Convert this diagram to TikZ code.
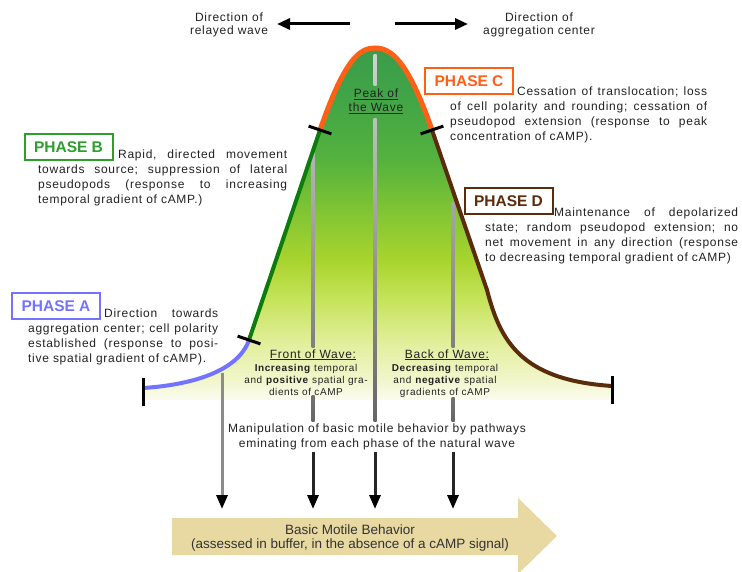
\documentclass[tikz,border=0pt]{standalone}
\usepackage{fontspec}
\setmainfont[LetterSpace=6]{Liberation Sans}
\newfontfamily\plainsans{Liberation Sans}
\usetikzlibrary{arrows.meta,calc}

\definecolor{inkgray}{HTML}{222222}
\definecolor{phaseAcol}{HTML}{7373FF}
\definecolor{phaseBcol}{HTML}{2E9E2E}
\definecolor{phaseBline}{HTML}{0C7C0C}
\definecolor{phaseCcol}{HTML}{FF6016}
\definecolor{phaseDcol}{HTML}{5A2C0C}
\definecolor{arrowtan}{HTML}{E8D9A2}
% colours of the wave body, from its base up to its crest
\definecolor{w0}{HTML}{FBFCF0}
\definecolor{w1}{HTML}{F2F6CC}
\definecolor{w2}{HTML}{E0EE98}
\definecolor{w3}{HTML}{C6E45A}
\definecolor{w4}{HTML}{A8D42E}
\definecolor{w5}{HTML}{80C434}
\definecolor{w6}{HTML}{55B23E}
\definecolor{w7}{HTML}{42A546}
\definecolor{w8}{HTML}{3A9C4A}
\pgfdeclareverticalshading{wavefill}{100bp}{color(0bp)=(w0); color(25bp)=(w0);
  color(27.8bp)=(w1); color(33.5bp)=(w2); color(39.2bp)=(w3); color(44.9bp)=(w4);
  color(52bp)=(w5); color(59.1bp)=(w6); color(67.6bp)=(w7); color(75bp)=(w8); color(100bp)=(w8)}

% a thin vertical bar shaded from #3 (top) to #4 (bottom)
\newcommand\graystem[4]{\shade[top color=#3,bottom color=#4] ($(#1)+(-1.5,0)$) rectangle ($(#2)+(1.5,0)$);}
% one fully justified line of width #1
\newcommand\jline[2]{\makebox[#1][s]{#2}}

\begin{document}
\begin{tikzpicture}[x=1pt,y=-1pt,
  every node/.style={inner sep=0pt, text=inkgray},
  wave/.style={line width=4pt, line cap=butt},
  tick/.style={line width=3pt, black},
  phasebox/.style={draw, line width=2pt, minimum width=88pt, minimum height=26pt,
    inner sep=0pt, font=\plainsans\bfseries\fontsize{15.5}{16}\selectfont},
  body/.style={font=\fontsize{12}{15}\selectfont, anchor=base west, align=left},
  heading/.style={font=\fontsize{12}{14}\selectfont, anchor=base, inner ysep=2pt},
  small/.style={font=\fontsize{10}{12}\selectfont, anchor=base, align=center},
  stem/.style={line width=3pt, black!85, -{Triangle[width=11pt,length=14pt,color=black]}},
  toparrow/.style={line width=3pt, black, -{Triangle[width=11pt,length=13pt]}},
]
\useasboundingbox (0,0) rectangle (742,572);
\fill[white] (0,0) rectangle (742,572);

% key points of the wave profile
\coordinate (wL) at (143,388);
\coordinate (jAB) at (249,340);
\coordinate (jBC) at (320,130);
\coordinate (pk) at (375,48);
\coordinate (jCD) at (432,130);
\coordinate (jD) at (487,290);
\coordinate (wR) at (612,386);

% body of the wave
\shade[shading=wavefill] (143,400) -- (wL) .. controls (190,385) and (238,372) .. (jAB)
  -- (jBC) .. controls (345,58) and (360,48) .. (pk) .. controls (390,48) and (407,58) .. (jCD)
  -- (jD) .. controls (500,340) and (520,380) .. (wR) -- (612,400) -- cycle;

% labels inside the wave (multi-line nodes sit on their last baseline)
\node[heading, align=center, inner ysep=4pt] (peak) at (376,112)
  {\underline{Peak of}\\\underline{the Wave}};
\node[heading] (fronthead) at (313,358) {\underline{Front of Wave:}};
\node[small] (frontbody) at (306,395)
  {\textbf{Increasing} temporal\\and \textbf{positive} spatial gra-\\dients of cAMP};
\node[heading] (backhead) at (447,358) {\underline{Back of Wave:}};
\node[small] (backbody) at (445,395)
  {\textbf{Decreasing} temporal\\and \textbf{negative} spatial\\gradients of cAMP};
\node[anchor=base, align=center, font=\fontsize{12}{15}\selectfont, inner ysep=2pt] (manip) at (377,447)
  {Manipulation of basic motile behavior by pathways\\eminating from each phase of the natural wave};

% stems dropping from each phase
\coordinate (l1top) at (222,373); \coordinate (l1tip) at (222,509);
\coordinate (l2top) at (313,153); \coordinate (l2tip) at (313,509);
\coordinate (l3top) at (375,55);  \coordinate (l3tip) at (375,509);
\coordinate (l4top) at (453,203); \coordinate (l4tip) at (453,509);

\draw[line width=3pt, black!45, -{Triangle[width=11pt,length=14pt,color=black]}] (l1top) -- (l1tip);

\coordinate (l2a) at (l2top |- fronthead.north);
\coordinate (l2b) at (l2top |- frontbody.south);
\coordinate (l2c) at (l2top |- manip.north);
\graystem{l2top}{l2a}{black!29}{black!50}
\graystem{l2b}{l2c}{black!55}{black!60}
\draw[stem] (l2top |- manip.south) -- (l2tip);

\coordinate (l3a) at (l3top |- peak.north);
\coordinate (l3b) at (l3top |- peak.south);
\coordinate (l3c) at (l3top |- manip.north);
\graystem{l3top}{l3a}{black!18}{black!22}
\graystem{l3b}{l3c}{black!25}{black!60}
\draw[stem] (l3top |- manip.south) -- (l3tip);

\coordinate (l4a) at (l4top |- backhead.north);
\coordinate (l4b) at (l4top |- backbody.south);
\coordinate (l4c) at (l4top |- manip.north);
\graystem{l4top}{l4a}{black!35}{black!50}
\graystem{l4b}{l4c}{black!55}{black!60}
\draw[stem] (l4top |- manip.south) -- (l4tip);

% outline of the wave, one colour per phase
\draw[wave, phaseAcol] (wL) .. controls (190,385) and (238,372) .. (jAB);
\draw[wave, phaseBline] (jAB) -- (jBC);
\draw[wave, phaseCcol, line width=5pt] (jBC) .. controls (345,58) and (360,48) .. (pk)
  .. controls (390,48) and (407,58) .. (jCD);
\draw[wave, phaseDcol] (jCD) -- (jD) .. controls (500,340) and (520,380) .. (wR);

% phase boundaries and ends
\draw[tick] ($(jAB)+(-11.4,-3.9)$) -- ($(jAB)+(11.4,3.9)$);
\draw[tick] ($(jBC)+(-11.4,-3.9)$) -- ($(jBC)+(11.4,3.9)$);
\draw[tick] ($(jCD)+(-11.4,3.9)$) -- ($(jCD)+(11.4,-3.9)$);
\draw[tick] (143,378) -- (143,406);
\draw[tick] (612,376) -- (612,404);

% phase labels and descriptions
\node[phasebox, draw=phaseAcol, text=phaseAcol] (pA) at (56,306) {PHASE A};
\node[body, text width=190pt] (tA) at (28,317)
  {\hspace*{76pt}\jline{114pt}{Direction\hfill towards}\\
   \jline{190pt}{aggregation\hfill center;\hfill cell\hfill polarity}\\
   \jline{190pt}{established\hfill (response\hfill to\hfill posi-}\\
   tive spatial gradient of cAMP).};

\node[phasebox, draw=phaseBcol, text=phaseBcol] (pB) at (68.5,147.5) {PHASE B};
\node[body, text width=249pt] (tB) at (38,159)
  {\hspace*{80pt}\jline{169pt}{Rapid,\hfill directed\hfill movement}\\
   \jline{249pt}{towards\hfill source;\hfill suppression\hfill of\hfill lateral}\\
   \jline{249pt}{pseudopods\hfill (response\hfill to\hfill increasing}\\
   temporal gradient of cAMP.)};

\node[phasebox, draw=phaseCcol, text=phaseCcol] (pC) at (469,81.5) {PHASE C};
\node[body, text width=257pt] (tC) at (450,96)
  {\hspace*{67pt}\jline{190pt}{Cessation\hfill of\hfill translocation;\hfill loss}\\
   \jline{257pt}{of\hfill cell\hfill polarity\hfill and\hfill rounding;\hfill cessation\hfill of}\\
   \jline{257pt}{pseudopod\hfill extension\hfill (response\hfill to\hfill peak}\\
   concentration of cAMP).};

\node[phasebox, draw=phaseDcol, text=phaseDcol] (pD) at (508.5,201) {PHASE D};
\node[body, text width=253pt] (tD) at (485,217)
  {\hspace*{69pt}\jline{184pt}{Maintenance\hfill of\hfill depolarized}\\
   \jline{253pt}{state;\hfill random\hfill pseudopod\hfill extension;\hfill no}\\
   \jline{253pt}{net\hfill movement\hfill in\hfill any\hfill direction\hfill (response}\\
   to decreasing temporal gradient of cAMP)};

% directions at the top
\node[anchor=base, align=center, font=\fontsize{12}{13.5}\selectfont] (dirL) at (229,35)
  {Direction of\\relayed wave};
\node[anchor=base, align=center, font=\fontsize{12}{13.5}\selectfont] (dirR) at (539,35)
  {Direction of\\aggregation center};
\coordinate (aLs) at (350,24); \coordinate (aLe) at (277,24);
\coordinate (aRs) at (395,24); \coordinate (aRe) at (468,24);
\draw[toparrow] (aLs) -- (aLe);
\draw[toparrow] (aRs) -- (aRe);

% basic motile behaviour band
\fill[arrowtan] (172,518) -- (518,518) -- (518,498) -- (557,536) -- (518,574)
  -- (518,555) -- (172,555) -- cycle;
\node[anchor=base, align=center, text=black!80, font=\plainsans\fontsize{13.5}{14}\selectfont] (basic) at (350,548)
  {Basic Motile Behavior\\(assessed in buffer, in the absence of a cAMP signal)};
\end{tikzpicture}
\end{document}
